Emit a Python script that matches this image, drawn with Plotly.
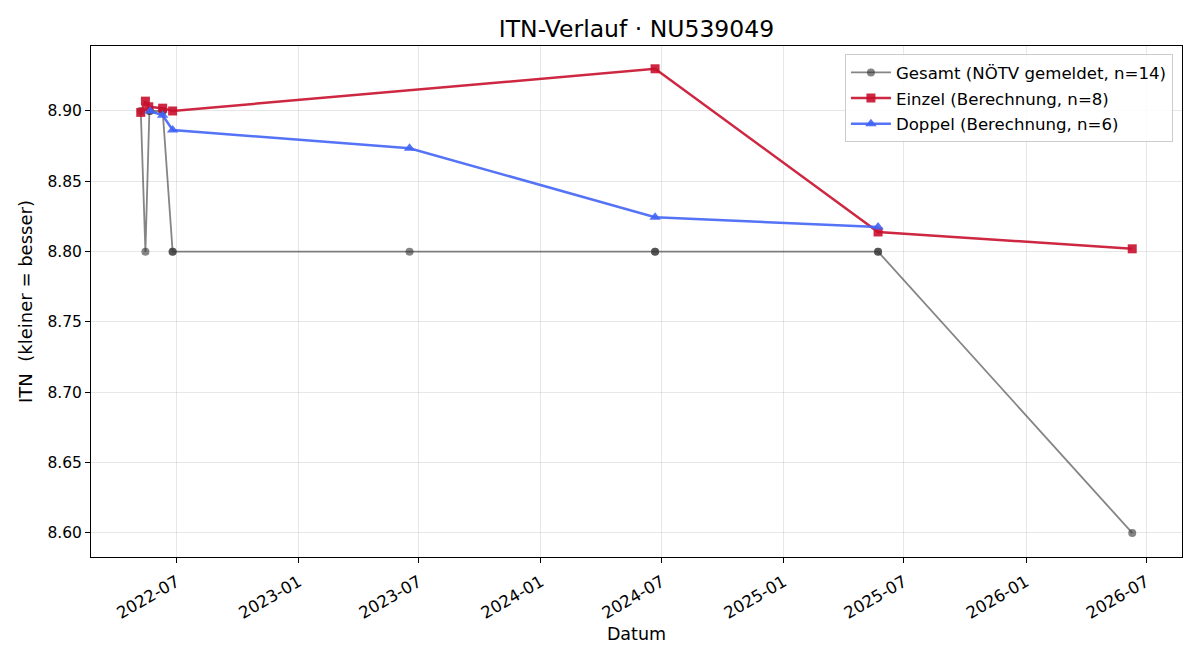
import plotly.graph_objects as go

# ---- data ----
gesamt_dates = ["2022-05-08", "2022-05-15", "2022-05-21", "2022-05-22", "2022-06-10", "2022-06-10",
                "2022-06-25", "2022-06-25", "2023-06-17", "2024-06-21", "2024-06-21",
                "2025-05-23", "2025-05-23", "2026-06-10"]
gesamt_vals = [8.90, 8.80, 8.90, 8.90, 8.90, 8.90, 8.80, 8.80, 8.80, 8.80, 8.80, 8.80, 8.80, 8.60]

einzel_dates = ["2022-05-08", "2022-05-15", "2022-05-20", "2022-06-10", "2022-06-25",
                "2024-06-21", "2025-05-23", "2026-06-10"]
einzel_vals = [8.899, 8.907, 8.903, 8.902, 8.900, 8.930, 8.814, 8.802]

doppel_dates = ["2022-05-22", "2022-06-10", "2022-06-25", "2023-06-17", "2024-06-21", "2025-05-23"]
doppel_vals = [8.900, 8.897, 8.8865, 8.8735, 8.8245, 8.8175]

y_ticks = [8.60, 8.65, 8.70, 8.75, 8.80, 8.85, 8.90]

FONT = "DejaVu Sans"

fig = go.Figure()
fig.add_trace(go.Scatter(
    x=gesamt_dates, y=gesamt_vals, mode="lines+markers",
    name="Gesamt (NÖTV gemeldet, n=14)", legendgroup="g",
    line=dict(color="rgba(51,51,51,0.6)", width=1.8),
    marker=dict(symbol="circle", size=8, color="rgba(51,51,51,0.6)", line=dict(width=0)),
))
fig.add_trace(go.Scatter(
    x=einzel_dates, y=einzel_vals, mode="lines+markers",
    name="Einzel (Berechnung, n=8)", legendgroup="e",
    line=dict(color="rgba(200,16,46,0.9)", width=2.5),
    marker=dict(symbol="square", size=9, color="rgba(200,16,46,0.9)", line=dict(width=0)),
))
fig.add_trace(go.Scatter(
    x=doppel_dates, y=doppel_vals, mode="lines+markers",
    name="Doppel (Berechnung, n=6)", legendgroup="d",
    line=dict(color="rgba(65,100,245,0.9)", width=2.5),
    marker=dict(symbol="triangle-up", size=10, color="rgba(65,100,245,0.9)", line=dict(width=0)),
))

fig.update_layout(
    width=1200, height=660,
    margin=dict(l=91, r=18, t=46, b=103),
    paper_bgcolor="white", plot_bgcolor="white",
    font=dict(family=FONT, color="black", size=15),
    title=dict(text="ITN-Verlauf · NU539049", xref="paper", x=0.5, xanchor="center",
               y=0.957, yanchor="middle",
               font=dict(size=23.5, family=FONT, color="black")),
    showlegend=True,
    legend=dict(x=0.9917, xanchor="right", y=0.984, yanchor="top",
                bgcolor="rgba(255,255,255,0.85)", bordercolor="#cccccc", borderwidth=1,
                font=dict(size=16.6, family=FONT), traceorder="grouped", tracegroupgap=1,
                itemwidth=40),
)
fig.update_xaxes(
    type="date",
    range=["2022-02-22", "2026-08-24"],
    tickformat="%Y-%m", dtick="M6", tick0="2022-01-01",
    tickangle=-30,
    ticks="outside", ticklen=5, tickcolor="black", tickwidth=1,
    tickfont=dict(size=16.5, family=FONT), ticklabelstandoff=3,
    showline=True, linecolor="black", linewidth=1, mirror=True,
    showgrid=True, gridcolor="rgba(176,176,176,0.3)", gridwidth=1,
    zeroline=False,
    title=dict(text="Datum", font=dict(size=17.5, family=FONT), standoff=6),
)
fig.update_yaxes(
    range=[8.5829, 8.9462],
    tickvals=y_ticks, tickformat=".2f",
    ticks="outside", ticklen=5, tickcolor="black", tickwidth=1,
    tickfont=dict(size=15.5, family=FONT),
    showline=True, linecolor="black", linewidth=1, mirror=True,
    showgrid=True, gridcolor="rgba(176,176,176,0.3)", gridwidth=1,
    zeroline=False,
    title=dict(text="ITN\u00a0 (kleiner = besser)", font=dict(size=18, family=FONT), standoff=10),
)

fig.write_html("out.html")
